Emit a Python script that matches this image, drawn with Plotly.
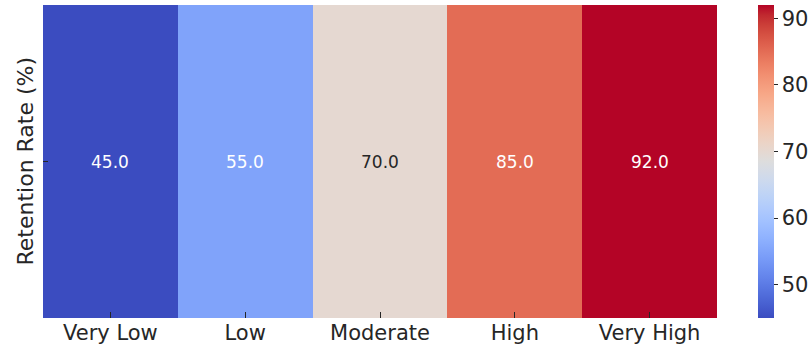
import plotly.graph_objects as go

categories = ["Very Low", "Low", "Moderate", "High", "Very High"]
retention = [45.0, 55.0, 70.0, 85.0, 92.0]
cbar_ticks = [50, 60, 70, 80, 90]
y_label = "Retention Rate (%)"

coolwarm = [
    (0.0, (59, 76, 192)), (0.03125, (68, 90, 204)), (0.0625, (77, 104, 215)),
    (0.09375, (87, 117, 225)), (0.125, (98, 130, 234)), (0.15625, (108, 142, 241)),
    (0.1875, (119, 154, 247)), (0.21875, (130, 165, 251)), (0.25, (141, 176, 254)),
    (0.28125, (152, 185, 255)), (0.3125, (163, 194, 255)), (0.34375, (174, 201, 253)),
    (0.375, (184, 208, 249)), (0.40625, (194, 213, 244)), (0.4375, (204, 217, 238)),
    (0.46875, (213, 219, 230)), (0.5, (221, 221, 221)), (0.53125, (229, 216, 209)),
    (0.5625, (236, 211, 197)), (0.59375, (241, 204, 184)), (0.625, (245, 196, 172)),
    (0.65625, (247, 187, 159)), (0.6875, (247, 177, 147)), (0.71875, (247, 166, 134)),
    (0.75, (244, 154, 123)), (0.78125, (241, 141, 111)), (0.8125, (236, 127, 99)),
    (0.84375, (229, 112, 88)), (0.875, (222, 96, 77)), (0.90625, (213, 80, 66)),
    (0.9375, (203, 62, 56)), (0.96875, (192, 40, 47)), (1.0, (180, 4, 38)),
]
colorscale = [[t, f"rgb({r},{g},{b})"] for t, (r, g, b) in coolwarm]

FONT = "DejaVu Sans"
TXT = "#262626"
zmin, zmax = min(retention), max(retention)

fig = go.Figure(go.Heatmap(
    z=[retention], x=categories, y=[0],
    colorscale=colorscale, zmin=zmin, zmax=zmax,
    xgap=0, ygap=0,
    colorbar=dict(
        thickness=16, len=1, lenmode="fraction", y=0.5, yanchor="middle",
        x=758 / 810, xref="container", xanchor="left", xpad=0, ypad=0,
        tickvals=cbar_ticks, ticks="outside", ticklen=4, tickcolor=TXT,
        tickfont=dict(family=FONT, size=21, color=TXT),
        outlinewidth=0,
    ),
    hoverinfo="skip",
))

for cat, v in zip(categories, retention):
    t = (v - zmin) / (zmax - zmin)
    color = TXT if 0.35 < t < 0.65 else "white"
    fig.add_annotation(x=cat, y=0, text=f"{v:.1f}", showarrow=False,
                       font=dict(family=FONT, size=17, color=color))

fig.add_annotation(x=(25 - 43) / 674, y=0.5, xref="paper", yref="paper",
                   xanchor="center", yanchor="middle",
                   text=y_label, textangle=-90, showarrow=False,
                   font=dict(family=FONT, size=22, color=TXT))

fig.update_xaxes(ticks="inside", ticklen=6, tickcolor=TXT, showline=False,
                 showgrid=False, zeroline=False,
                 tickfont=dict(family=FONT, size=21, color=TXT))
fig.update_yaxes(tickvals=[0], ticktext=[""], ticks="inside", ticklen=5,
                 tickcolor=TXT, showgrid=False, zeroline=False, showline=False)

fig.update_layout(
    width=810, height=354,
    margin=dict(l=43, r=93, t=5, b=36, pad=0, autoexpand=False),
    paper_bgcolor="white", plot_bgcolor="white",
    font=dict(family=FONT, color=TXT),
)

fig.write_html("out.html",
               config={"displayModeBar": False},
               post_script="document.body.style.margin='0';document.body.style.overflow='hidden';")
